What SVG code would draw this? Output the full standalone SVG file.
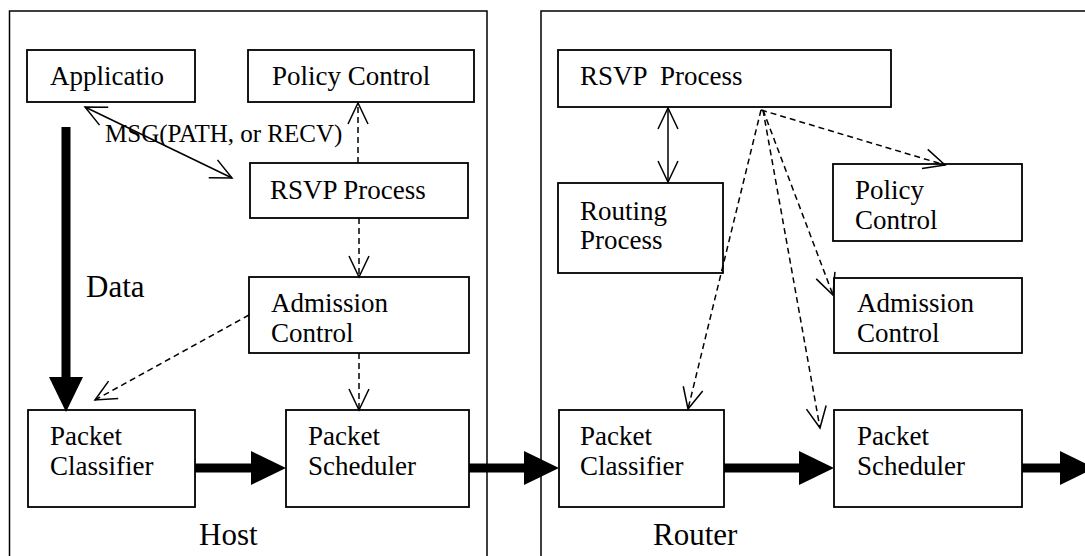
<svg xmlns="http://www.w3.org/2000/svg" width="1085" height="556" viewBox="0 0 1085 556">
  <style>
    .frame { fill: none; stroke: #000; stroke-width: 1.5; }
    .box { fill: #fff; stroke: #000; stroke-width: 1.8; }
    .lbl { font-family: "Liberation Serif", "Times New Roman", serif; font-size: 27px; fill: #000; }
    .big { font-family: "Liberation Serif", "Times New Roman", serif; font-size: 31px; fill: #000; }
    .dash { fill: none; stroke: #000; stroke-width: 1.5; stroke-dasharray: 6 4; }
    .solid { fill: none; stroke: #000; stroke-width: 1.5; }
    .thick { fill: none; stroke: #000; stroke-width: 9; }
  </style>
  <defs>
    <marker id="open" markerUnits="userSpaceOnUse" viewBox="-24 -12 26 24" refX="0" refY="0" markerWidth="26" markerHeight="24" orient="auto-start-reverse">
      <path d="M-21,-10 L0,0 L-21,10" fill="none" stroke="#000" stroke-width="1.5" stroke-dasharray="none"/>
    </marker>
    <marker id="solidhead" markerUnits="userSpaceOnUse" viewBox="0 -18 36 36" refX="0" refY="0" markerWidth="36" markerHeight="36" orient="auto">
      <path d="M0,-17 L35,0 L0,17 Z" fill="#000"/>
    </marker>
  </defs>

  <rect width="1085" height="556" fill="#fff"/>

  <!-- enclosing frames -->
  <g id="host-frame">
    <rect class="frame" x="9.5" y="11" width="477.5" height="560"/>
    <text class="big" x="199" y="545">Host</text>
  </g>
  <g id="router-frame">
    <rect class="frame" x="541" y="11" width="560" height="560"/>
    <text class="big" x="653" y="545">Router</text>
  </g>

  <!-- host nodes -->
  <g id="host-application">
    <rect class="box" x="27" y="50" width="168" height="52"/>
    <text class="lbl" x="50" y="85">Applicatio</text>
  </g>
  <g id="host-policy">
    <rect class="box" x="248" y="50" width="226" height="52"/>
    <text class="lbl" x="272" y="85">Policy Control</text>
  </g>
  <g id="host-rsvp">
    <rect class="box" x="250" y="163" width="218" height="55"/>
    <text class="lbl" x="270" y="199">RSVP Process</text>
  </g>
  <g id="host-admission">
    <rect class="box" x="249" y="277" width="220" height="76"/>
    <text class="lbl" x="271" y="312">Admission</text>
    <text class="lbl" x="271" y="342">Control</text>
  </g>
  <g id="host-classifier">
    <rect class="box" x="28" y="410" width="167" height="97"/>
    <text class="lbl" x="50" y="445">Packet</text>
    <text class="lbl" x="50" y="475">Classifier</text>
  </g>
  <g id="host-scheduler">
    <rect class="box" x="286" y="410" width="183" height="97"/>
    <text class="lbl" x="308" y="445">Packet</text>
    <text class="lbl" x="308" y="475">Scheduler</text>
  </g>
  <g id="data-label">
    <text class="big" x="86" y="297">Data</text>
  </g>

  <!-- router nodes -->
  <g id="router-rsvp">
    <rect class="box" x="558" y="50" width="333" height="57"/>
    <text class="lbl" x="580" y="85" xml:space="preserve">RSVP  Process</text>
  </g>
  <g id="router-routing">
    <rect class="box" x="558" y="183" width="165" height="90"/>
    <text class="lbl" x="580" y="220">Routing</text>
    <text class="lbl" x="580" y="249">Process</text>
  </g>
  <g id="router-policy">
    <rect class="box" x="833" y="164" width="189" height="77"/>
    <text class="lbl" x="855" y="199">Policy</text>
    <text class="lbl" x="855" y="229">Control</text>
  </g>
  <g id="router-admission">
    <rect class="box" x="834" y="278" width="188" height="75"/>
    <text class="lbl" x="857" y="312">Admission</text>
    <text class="lbl" x="857" y="342">Control</text>
  </g>
  <g id="router-classifier">
    <rect class="box" x="559" y="410" width="165" height="97"/>
    <text class="lbl" x="580" y="445">Packet</text>
    <text class="lbl" x="580" y="475">Classifier</text>
  </g>
  <g id="router-scheduler">
    <rect class="box" x="834" y="410" width="188" height="97"/>
    <text class="lbl" x="857" y="445">Packet</text>
    <text class="lbl" x="857" y="475">Scheduler</text>
  </g>

  <!-- connectors -->
  <g id="connectors">
    <!-- data path -->
    <line class="thick" x1="66" y1="127" x2="66" y2="377" marker-end="url(#solidhead)"/>
    <line class="thick" x1="195" y1="468" x2="251" y2="468" marker-end="url(#solidhead)"/>
    <line class="thick" x1="469" y1="468" x2="524" y2="468" marker-end="url(#solidhead)"/>
    <line class="thick" x1="724" y1="468" x2="799" y2="468" marker-end="url(#solidhead)"/>
    <line class="thick" x1="1022" y1="468" x2="1060" y2="468" marker-end="url(#solidhead)"/>

    <!-- host control messages -->
    <line class="solid" x1="85" y1="107" x2="232" y2="178" marker-start="url(#open)" marker-end="url(#open)"/>
    <line class="dash" x1="358" y1="163" x2="358" y2="103" marker-end="url(#open)"/>
    <line class="dash" x1="359" y1="218" x2="359" y2="277" marker-end="url(#open)"/>
    <line class="dash" x1="359" y1="353" x2="359" y2="410" marker-end="url(#open)"/>
    <line class="dash" x1="249" y1="315" x2="95" y2="400" marker-end="url(#open)"/>

    <!-- router control messages -->
    <line class="solid" x1="668" y1="108" x2="668" y2="182" marker-start="url(#open)" marker-end="url(#open)"/>
    <line class="dash" x1="761" y1="110" x2="945" y2="165" marker-end="url(#open)"/>
    <line class="dash" x1="761" y1="110" x2="688" y2="409" marker-end="url(#open)"/>
    <line class="dash" x1="763" y1="110" x2="833" y2="295" marker-end="url(#open)"/>
    <line class="dash" x1="763" y1="110" x2="820" y2="428" marker-end="url(#open)"/>

    <text class="lbl" x="105" y="142" style="font-size:25px">MSG(PATH, or RECV)</text>
  </g>
</svg>
